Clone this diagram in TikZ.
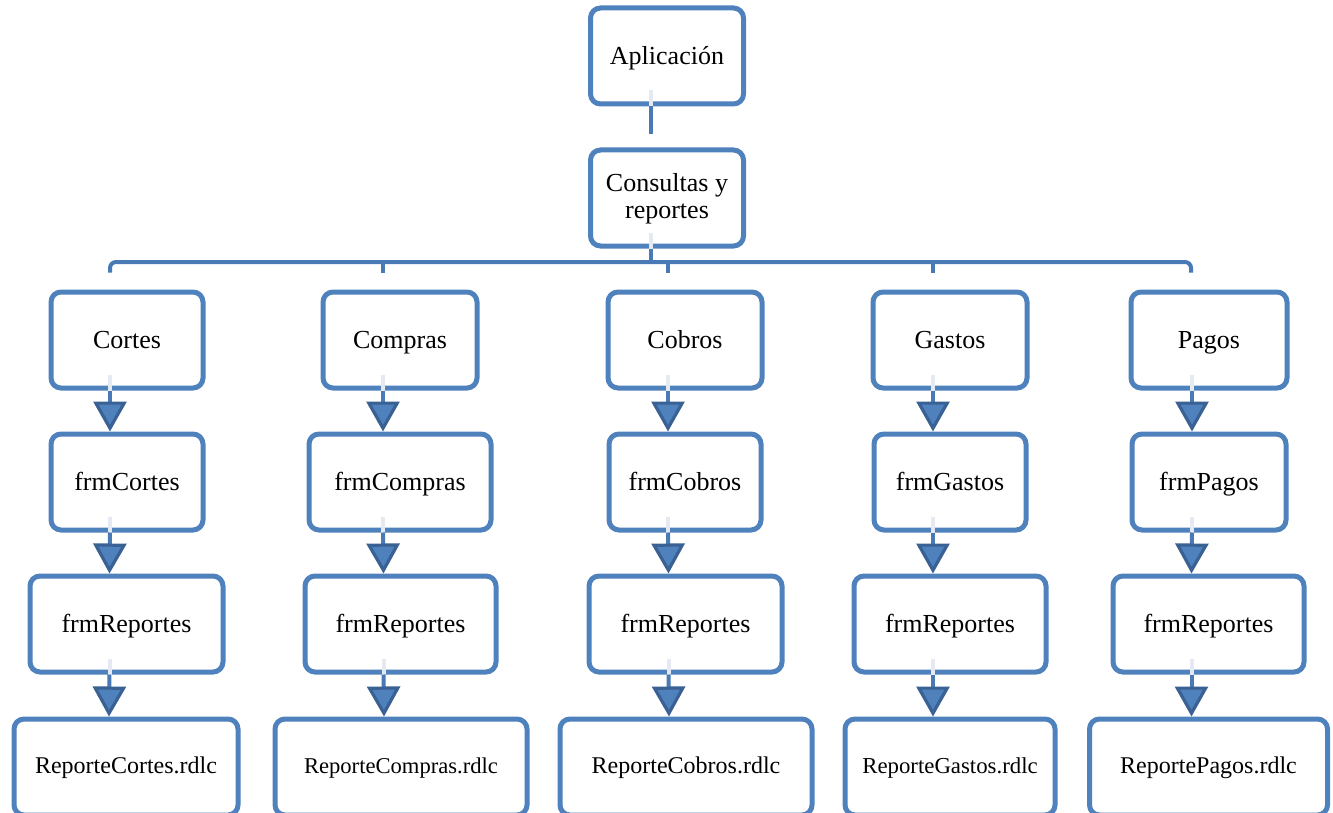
\documentclass[tikz,border=0pt]{standalone}
\usepackage{fontspec}
\setmainfont{Liberation Serif}
\usetikzlibrary{arrows.meta}

\definecolor{cajaazul}{HTML}{4F81BD}
\definecolor{lineaazul}{HTML}{4A7AB6}
\definecolor{puntaazul}{HTML}{3A6193}
\definecolor{tenue}{HTML}{E4E9F2}

\tikzset{
  caja/.style={draw=cajaazul, line width=2.5pt, rounded corners=5pt, fill=white,
    minimum height=48pt, align=center, inner sep=1pt, text height=10pt, text depth=1.5pt,
    font=\fontsize{13}{13.5}\selectfont},
  rdlc/.style={caja, text height=9pt, text depth=3pt},
  enlace/.style={lineaazul, line width=2pt},
  sombra/.style={tenue, line width=2pt},
  flecha/.style={lineaazul, line width=2pt,
    -{Triangle[width=16.5pt,length=15pt,line width=1.6pt,color=puntaazul,fill=cajaazul]}},
}

\begin{document}
\begin{tikzpicture}[x=0.5pt,y=-0.5pt]
        \useasboundingbox (0,0) rectangle (1333,813);
        \clip (0,0) rectangle (1333,813);

        % Raiz
        \node[caja, minimum width=76.5pt] (app) at (667,56) {Aplicación};
        \node[draw=cajaazul, line width=2.5pt, rounded corners=5pt, fill=white, minimum height=48pt,
              minimum width=76.5pt, align=center, inner sep=1pt, font=\fontsize{13}{13.5}\selectfont]
              (consultas) at (667,198) {\strut Consultas y\\reportes};

        % Modulos
        \node[caja, minimum width=76pt] (cortes)  at (127,340)  {Cortes};
        \node[caja, minimum width=77pt] (compras) at (400,340)  {Compras};
        \node[caja, minimum width=77pt] (cobros)  at (685,340)  {Cobros};
        \node[caja, minimum width=77pt] (gastos)  at (950,340)  {Gastos};
        \node[caja, minimum width=78pt] (pagos)   at (1209,340) {Pagos};

        % Formularios
        \node[caja, minimum width=76pt] (frmcortes)  at (127,482)  {frmCortes};
        \node[caja, minimum width=91pt] (frmcompras) at (400,482)  {frmCompras};
        \node[caja, minimum width=76pt] (frmcobros)  at (685,482)  {frmCobros};
        \node[caja, minimum width=76pt] (frmgastos)  at (950,482)  {frmGastos};
        \node[caja, minimum width=77pt] (frmpagos)   at (1209,482) {frmPagos};

        \node[caja, minimum width=96.5pt] (repcortes)  at (126.5,624)  {frmReportes};
        \node[caja, minimum width=95.5pt] (repcompras) at (400.5,624)  {frmReportes};
        \node[caja, minimum width=96.5pt] (repcobros)  at (685.5,624)  {frmReportes};
        \node[caja, minimum width=96pt]   (repgastos)  at (950,624)    {frmReportes};
        \node[caja, minimum width=95.5pt] (reppagos)   at (1208.5,624) {frmReportes};

        % Reportes .rdlc
        \node[rdlc, minimum width=112pt, font=\fontsize{12}{14}\selectfont]   (rdlccortes)  at (126,767)    {ReporteCortes.rdlc};
        \node[rdlc, minimum width=126pt, font=\fontsize{11.3}{14}\selectfont] (rdlccompras) at (401,767)    {ReporteCompras.rdlc};
        \node[rdlc, minimum width=126pt, font=\fontsize{12}{14}\selectfont]   (rdlccobros)  at (686,767)    {ReporteCobros.rdlc};
        \node[rdlc, minimum width=105pt, font=\fontsize{11.4}{14}\selectfont] (rdlcgastos)  at (950,767)    {ReporteGastos.rdlc};
        \node[rdlc, minimum width=119pt, font=\fontsize{12}{14}\selectfont]   (rdlcpagos)   at (1208.5,767) {ReportePagos.rdlc};

        % Conectores superiores
        \coordinate (bus) at (651,262);
        \draw[sombra] ([xshift=-8pt,yshift=8pt]app.south) -- ([xshift=-8pt]app.south);
        \draw[enlace] ([xshift=-8pt]app.south) -- ([xshift=-8pt,yshift=-14pt]app.south);
        \draw[sombra] ([xshift=-8pt,yshift=8pt]consultas.south) -- ([xshift=-8pt]consultas.south);
        \draw[enlace] ([xshift=-8pt]consultas.south) -- (bus);

        \draw[enlace, rounded corners=3pt]
            ([xshift=-8.5pt,yshift=8.5pt]cortes.north) |- (bus)
            -| ([xshift=-9pt,yshift=8.5pt]pagos.north);
        \foreach \m in {compras,cobros,gastos}
            \draw[enlace] ([xshift=-8.5pt,yshift=8.5pt]\m.north) -- ([xshift=-8.5pt]\m.north |- bus);

        % Flechas por columna
        \foreach \m in {cortes,compras,cobros,gastos,pagos} {
            \foreach \a/\b in {\m/frm\m, frm\m/rep\m, rep\m/rdlc\m} {
                \draw[sombra] ([xshift=-8.5pt,yshift=8pt]\a.south) -- ([xshift=-8.5pt]\a.south);
                \draw[flecha] ([xshift=-8.5pt]\a.south) -- ([xshift=-8.5pt]\b.north);
            }
        }
    \end{tikzpicture}
\end{document}
